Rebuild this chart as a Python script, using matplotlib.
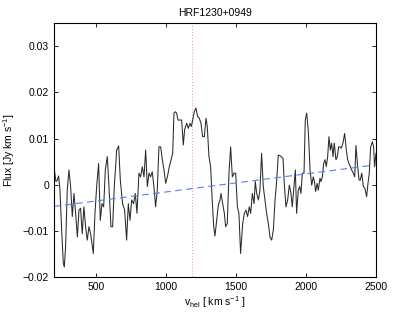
import matplotlib.pyplot as plt

plt.rcParams['font.family'] = ['Liberation Sans', 'DejaVu Sans']
plt.rcParams['mathtext.fontset'] = 'custom'
plt.rcParams['mathtext.rm'] = 'Liberation Sans'
plt.rcParams['mathtext.it'] = 'Liberation Sans'

# spectrum (velocity in km/s, flux in Jy)
velocity = [200, 214, 224, 233, 243, 255, 267, 274, 283, 295, 307, 319, 331, 343, 355, 367,
            379, 390, 402, 414, 426, 438, 450, 462, 481, 493, 505, 519, 531, 543, 555, 567,
            581, 593, 607, 619, 631, 648, 662, 674, 690, 705, 719, 731, 743, 755, 769, 781,
            793, 807, 819, 831, 843, 855, 867, 879, 890, 902, 914, 926, 938, 950, 962, 974,
            986, 998, 1010, 1024, 1036, 1048, 1057, 1067, 1076, 1086, 1100, 1112, 1124, 1133,
            1148, 1160, 1171, 1181, 1191, 1202, 1214, 1226, 1238, 1250, 1262, 1274, 1286, 1295,
            1307, 1319, 1329, 1341, 1350, 1362, 1374, 1386, 1393, 1405, 1417, 1426, 1438, 1450,
            1462, 1474, 1486, 1498, 1510, 1521, 1533, 1548, 1560, 1571, 1583, 1595, 1605, 1617,
            1629, 1638, 1648, 1660, 1671, 1683, 1695, 1707, 1719, 1731, 1743, 1755, 1767, 1779,
            1791, 1802, 1819, 1836, 1845, 1857, 1869, 1881, 1893, 1902, 1914, 1924, 1933, 1945,
            1955, 1964, 1974, 1986, 1995, 2005, 2017, 2029, 2041, 2052, 2060, 2069, 2079, 2088,
            2100, 2107, 2117, 2126, 2136, 2145, 2155, 2164, 2174, 2183, 2193, 2202, 2214, 2224,
            2233, 2243, 2252, 2264, 2276, 2288, 2298, 2307, 2317, 2326, 2338, 2348, 2357, 2367,
            2379, 2388, 2398, 2410, 2421, 2433, 2443, 2452, 2462, 2474, 2483, 2490, 2500]
flux = [0.0039, 0.0007, 0.0010, 0.0019, -0.0012, -0.0098, -0.0171, -0.0178, -0.0135, -0.0012,
        0.0032, -0.0004, -0.0069, -0.0019, -0.0062, -0.0113, -0.0055, -0.0051, -0.0106, -0.0048,
        -0.0091, -0.0120, -0.0091, -0.0106, -0.0149, -0.0062, -0.0004, 0.0046, -0.0077, -0.0041,
        -0.0048, 0.0032, 0.0061, -0.0004, -0.0091, -0.0091, -0.0004, 0.0075, 0.0084, 0.0010,
        -0.0041, -0.0055, -0.0120, -0.0041, -0.0077, -0.0033, -0.0041, -0.0019, -0.0062, 0.0025,
        0.0017, 0.0039, 0.0017, 0.0075, -0.0004, 0.0025, 0.0017, 0.0028, -0.0004, -0.0048,
        -0.0012, 0.0082, 0.0082, 0.0054, 0.0032, 0.0003, 0.0017, 0.0039, 0.0054, 0.0068,
        0.0155, 0.0158, 0.0155, 0.0140, 0.0140, 0.0140, 0.0086, 0.0119, 0.0133, 0.0122,
        0.0133, 0.0126, 0.0140, 0.0158, 0.0166, 0.0148, 0.0144, 0.0133, 0.0104, 0.0104,
        0.0144, 0.0126, 0.0061, 0.0039, -0.0026, -0.0091, -0.0111, -0.0077, -0.0044, -0.0033,
        -0.0019, -0.0041, -0.0062, -0.0091, -0.0084, 0.0025, 0.0082, 0.0017, 0.0025, 0.0025,
        -0.0048, -0.0062, -0.0149, -0.0084, -0.0062, -0.0055, -0.0069, -0.0048, -0.0062, -0.0019,
        -0.0041, 0.0007, -0.0019, -0.0033, -0.0012, 0.0068, -0.0004, -0.0033, -0.0062, -0.0084,
        -0.0113, -0.0120, -0.0098, -0.0033, 0.0010, 0.0064, 0.0062, 0.0057, 0.0003, -0.0048,
        -0.0033, -0.0001, -0.0019, -0.0048, -0.0004, 0.0032, -0.0062, -0.0012, -0.0004, -0.0019,
        0.0025, 0.0025, 0.0140, 0.0155, 0.0115, 0.0032, -0.0001, 0.0017, 0.0007, -0.0015,
        0.0003, -0.0012, 0.0014, 0.0007, 0.0017, 0.0046, 0.0054, 0.0039, 0.0061, 0.0104,
        0.0075, 0.0090, 0.0061, 0.0090, 0.0054, 0.0061, 0.0082, 0.0082, 0.0079, 0.0090,
        0.0111, 0.0075, 0.0054, 0.0046, 0.0039, 0.0032, 0.0025, 0.0017, 0.0085, 0.0046,
        0.0010, 0.0010, 0.0025, -0.0004, -0.0008, -0.0026, 0.0003, 0.0025, 0.0082, 0.0093,
        0.0082, 0.0039, 0.0068]

# baseline fit (end points) and systemic velocity
baseline_v = [200, 2500]
baseline_f = [-0.0047, 0.0043]
v_sys = 1183

xticks = [500, 1000, 1500, 2000, 2500]
yticks = [-0.02, -0.01, 0, 0.01, 0.02, 0.03]
ytick_labels = ['\u22120.02', '\u22120.01', '0', '0.01', '0.02', '0.03']

fig = plt.figure(figsize=(4.15, 3.12), dpi=100)
ax = fig.add_axes([0.130, 0.112, 0.776, 0.814])

ax.axvline(v_sys, color='#f0a0a0', linestyle=':', linewidth=0.8)
ax.plot(velocity, flux, color='#2a2a2a', linewidth=0.75)
ax.plot(baseline_v, baseline_f, color='#5a7cf0', linestyle=(0, (6, 4)), linewidth=0.8)

ax.set_xlim(200, 2500)
ax.set_ylim(-0.02, 0.035)
ax.set_xticks(xticks)
ax.set_xticklabels([str(t) for t in xticks])
ax.set_yticks(yticks)
ax.set_yticklabels(ytick_labels)
ax.tick_params(direction='in', top=True, right=True, labelsize=7.5, length=3, width=0.6)
for s in ax.spines.values():
    s.set_linewidth(0.8)

ax.set_title('HRF1230+0949', fontsize=7.5, pad=5)
ax.set_xlabel(r'v$_{\rm hel}$ [ km s$^{-1}$ ]', fontsize=7.5, labelpad=2)
ax.set_ylabel(r'Flux [Jy km s$^{-1}$]', fontsize=7.5, labelpad=4)

plt.savefig('out.png', dpi=100)
